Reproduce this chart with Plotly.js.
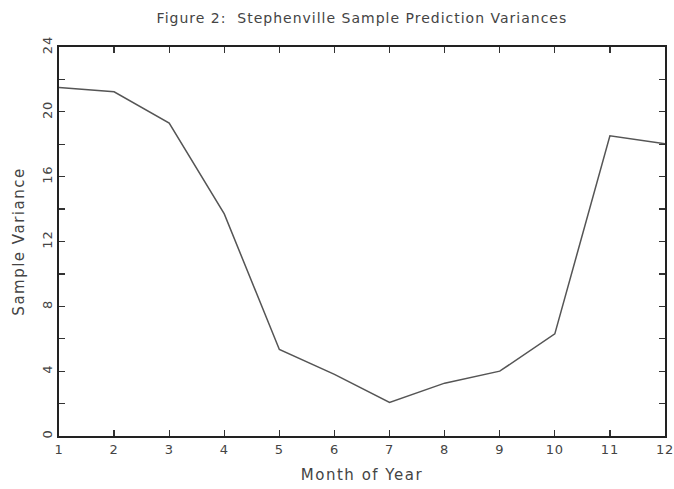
<!DOCTYPE html>
<html>
<head>
<meta charset="utf-8">
<script src="https://cdn.plot.ly/plotly-3.0.1.min.js"></script>
<style>
html,body{margin:0;padding:0;background:#fff;}
#chart{width:674px;height:489px;}
#chart .gtitle{letter-spacing:1px;}
#chart .xtitle,#chart .ytitle{letter-spacing:1.5px;}
#chart .xtick text,#chart .ytick text{letter-spacing:0.8px;}
</style>
</head>
<body>
<div id="chart"></div>
<script>
const months = [1, 2, 3, 4, 5, 6, 7, 8, 9, 10, 11, 12];
const variances = [21.5, 21.24, 19.3, 13.7, 5.34, 3.8, 2.07, 3.26, 4.0, 6.3, 18.52, 18.03];
const yTickVals = [0, 4, 8, 12, 16, 20, 24];

const font = {family: "DejaVu Sans, sans-serif", size: 13, color: "#444"};

Plotly.newPlot("chart", [{
  x: months,
  y: variances,
  type: "scatter",
  mode: "lines",
  line: {color: "#555", width: 1.5},
  hoverinfo: "skip"
}], {
  width: 674,
  height: 489,
  margin: {l: 59, r: 9, t: 47, b: 53},
  paper_bgcolor: "#fff",
  plot_bgcolor: "#fff",
  showlegend: false,
  font: font,
  title: {text: "Figure 2:  Stephenville Sample Prediction Variances", font: {family: font.family, size: 14, color: "#444"}, x: 0.537, xanchor: "center", y: 0.963, yanchor: "middle"},
  xaxis: {
    range: [1, 12],
    tickvals: months,
    ticks: "inside",
    ticklen: 6,
    tickwidth: 1.3,
    tickcolor: "#333",
    showline: true,
    linecolor: "#222",
    linewidth: 2,
    mirror: "ticks",
    showgrid: false,
    zeroline: false,
    tickfont: {size: 13, color: "#444"},
    title: {text: "Month of Year", font: {size: 15, color: "#444"}, standoff: 14}
  },
  yaxis: {
    range: [0, 24],
    tickvals: yTickVals,
    ticks: "inside",
    ticklen: 6,
    tickwidth: 1.3,
    tickcolor: "#333",
    tickangle: -90,
    minor: {dtick: 2, tick0: 0, ticks: "inside", ticklen: 6, tickwidth: 1.3, tickcolor: "#333", showgrid: false},
    showline: true,
    linecolor: "#222",
    linewidth: 2,
    mirror: "ticks",
    showgrid: false,
    zeroline: false,
    tickfont: {size: 13, color: "#444"},
    title: {text: "Sample Variance", font: {size: 15, color: "#444"}, standoff: 12}
  }
}, {displayModeBar: false, staticPlot: true});
</script>
</body>
</html>
